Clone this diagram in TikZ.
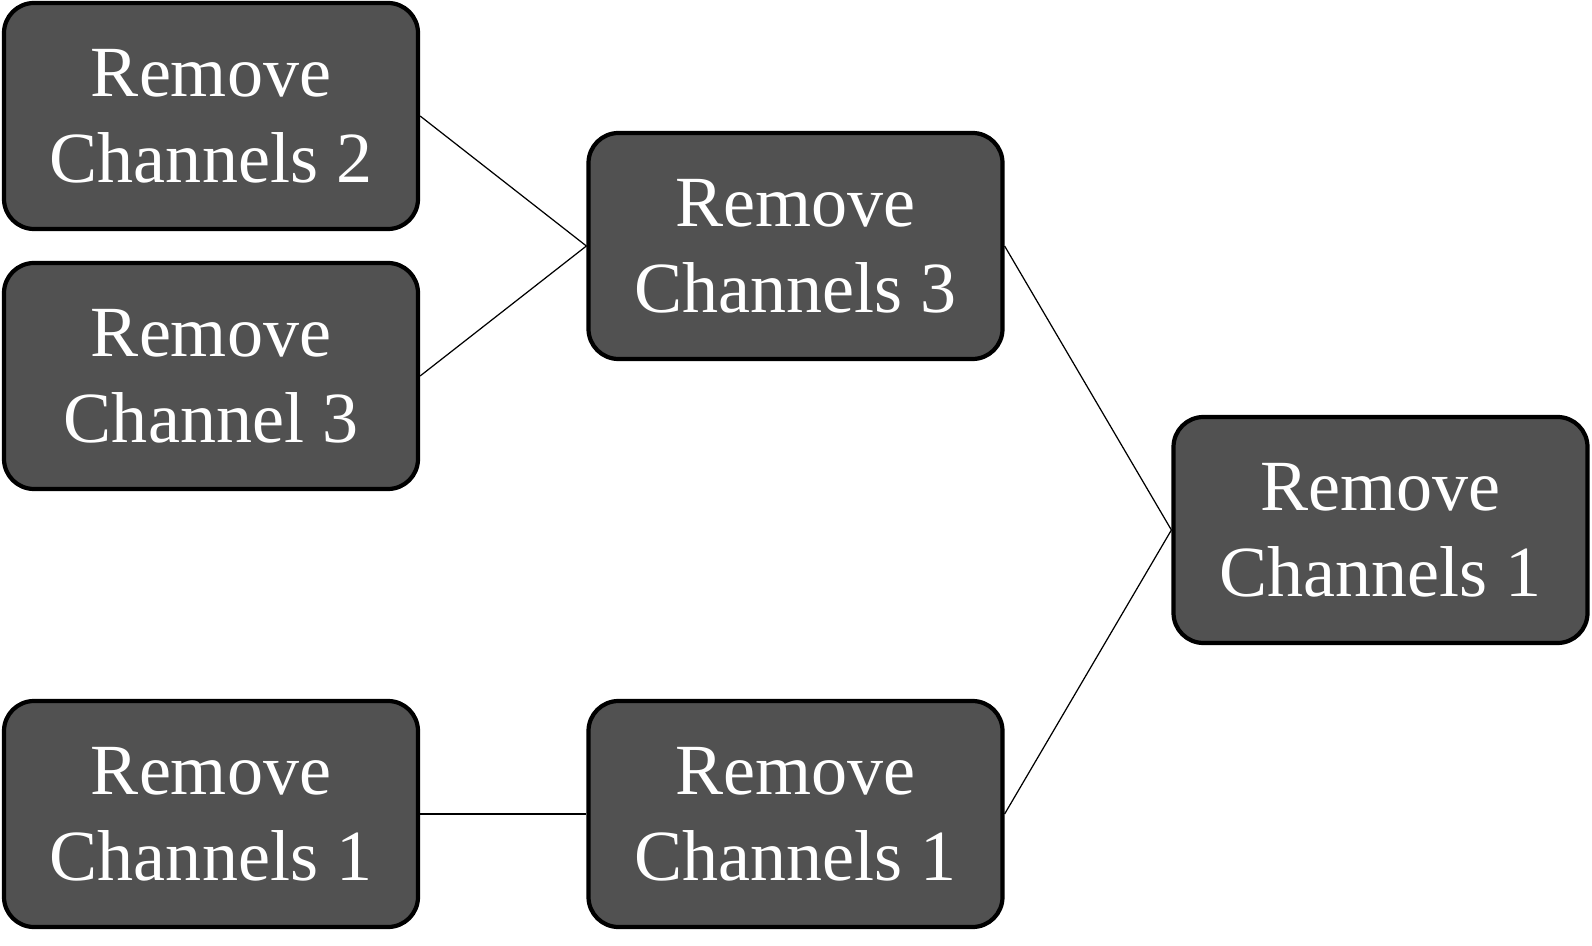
\documentclass[tikz,border=0pt]{standalone}
\usepackage{fontspec}
\setmainfont{Liberation Serif}
\usepackage{xcolor}
\usepackage{tikz}
\usetikzlibrary{positioning}
\definecolor{rcFill}{HTML}{515151}

\begin{document}
\begin{tikzpicture}[
  font=\fontsize{41}{49}\selectfont,
  box/.style={draw=black,line width=2.4pt,fill=rcFill,text=white,rounded corners=0.6cm,
    minimum width=8.28cm,minimum height=4.52cm,inner sep=0pt,align=center},
  ln/.style={draw=black,line width=0.7pt}]

\useasboundingbox (0,0) rectangle (31.84,-18.92);

\node[box] (r2)  at (4.22,-2.32)   {Remove\\Channels 2};
\node[box] (r3a) at (4.22,-7.52)   {Remove\\Channel 3};
\node[box] (r1a) at (4.22,-16.28)  {Remove\\Channels 1};
\node[box] (r3b) at (15.91,-4.92)  {Remove\\Channels 3};
\node[box] (r1b) at (15.91,-16.28) {Remove\\Channels 1};
\node[box] (r1c) at (27.61,-10.60) {Remove\\Channels 1};

\draw[ln] (r2.east) -- (r3b.west);
\draw[ln] (r3a.east) -- (r3b.west);
\draw[ln] (r1a.east) -- (r1b.west);
\draw[ln] (r3b.east) -- (r1c.west);
\draw[ln] (r1b.east) -- (r1c.west);
\end{tikzpicture}
\end{document}
